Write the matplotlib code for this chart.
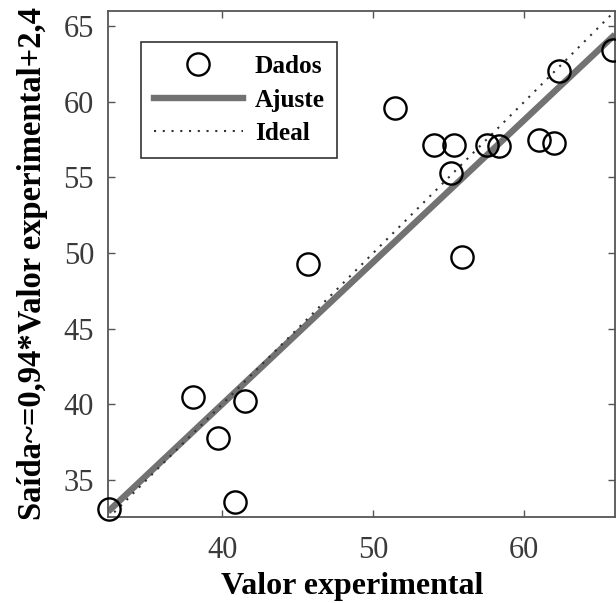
import numpy as np
import matplotlib.pyplot as plt
from matplotlib.lines import Line2D

# valores experimentais e saída da rede
valor_exp = [32.5, 38.1, 39.75, 41.5, 40.85, 45.7, 51.45, 54.0, 55.35, 55.15,
             57.5, 58.35, 55.85, 61.0, 61.95, 62.3, 65.9]
saida = [33.1, 40.45, 37.8, 40.2, 33.55, 49.3, 59.6, 57.15, 57.15, 55.3,
         57.15, 57.1, 49.75, 57.5, 57.25, 62.0, 63.45]

# reta de ajuste: saída ~= 0,94*x + 2,4
coef_a = 0.94
coef_b = 2.4

xlim = (32.45, 66.0)
ylim = (32.55, 66.0)

plt.rcParams['font.family'] = ['Liberation Serif', 'DejaVu Serif']

fig = plt.figure(figsize=(6.16, 6.03), dpi=100)
ax = fig.add_axes([0.1753, 0.1426, 0.8230, 0.8392])

xs = np.array(xlim)
ax.plot(xs, coef_a * xs + coef_b, color='#727272', lw=4.6, solid_capstyle='butt', zorder=2)
ax.plot(xs, xs, color='#333333', lw=1.5, ls=(0, (1, 3.2)), zorder=3)
ax.plot(valor_exp, saida, 'o', ms=16, mfc='none', mec='black', mew=1.7,
        clip_on=False, zorder=4)

ax.set_xlim(*xlim)
ax.set_ylim(*ylim)
ax.set_xticks([40, 50, 60])
ax.set_yticks([35, 40, 45, 50, 55, 60, 65])
ax.tick_params(direction='in', top=True, right=True, length=5, width=1,
               color='#555555', labelsize=22, labelcolor='#3a3a3a')
ax.tick_params(axis='x', pad=14)
ax.tick_params(axis='y', pad=10)
for s in ax.spines.values():
    s.set_color('#555555')
    s.set_linewidth(1.3)

ax.set_xlabel('Valor experimental', fontsize=23, fontweight='bold')
ax.xaxis.set_label_coords(0.482, -0.109)
ax.set_ylabel('Saída~=0,94*Valor experimental+2,4', fontsize=23.5,
              fontweight='bold', labelpad=11)

handles = [
    Line2D([], [], marker='o', ls='none', ms=16, mfc='none', mec='black', mew=1.7),
    Line2D([], [], color='#727272', lw=4.6),
    Line2D([], [], color='#333333', lw=1.5, ls=(0, (1, 3.2))),
]
leg = ax.legend(handles, ['Dados', 'Ajuste', 'Ideal'], loc='upper left',
                bbox_to_anchor=(0.065, 0.938), fancybox=False, framealpha=1,
                edgecolor='#333333', prop={'weight': 'bold', 'size': 18.2},
                handlelength=3.55, labelspacing=0.42, borderpad=0.5,
                handletextpad=0.45, borderaxespad=0)
leg.get_frame().set_linewidth(1.2)

fig.savefig('out.png', dpi=100)
